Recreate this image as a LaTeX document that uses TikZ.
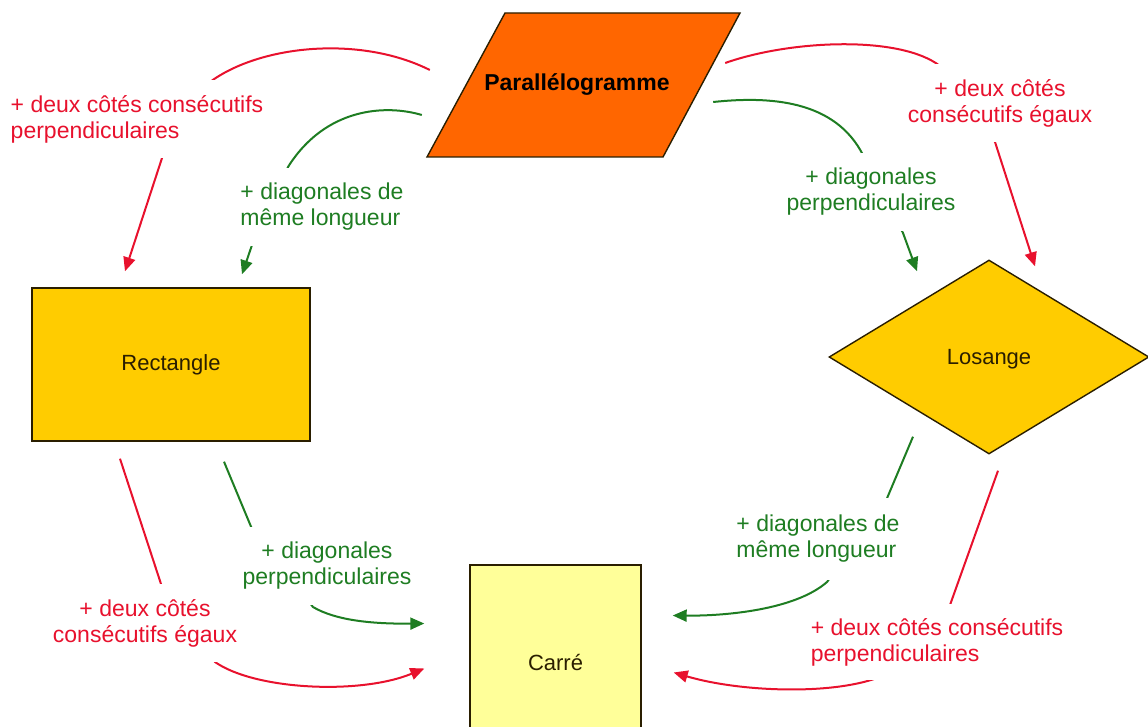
\documentclass[tikz,border=0pt]{standalone}
\usepackage{fontspec}
\setmainfont{Liberation Sans}
\usetikzlibrary{shapes.geometric,arrows.meta}
\definecolor{cred}{HTML}{E8112D}
\definecolor{cgreen}{HTML}{1E7D22}
\definecolor{corange}{HTML}{FF6600}
\definecolor{cgold}{HTML}{FFCC00}
\definecolor{clight}{HTML}{FFFF99}
\definecolor{cborder}{HTML}{2A1E00}
\begin{document}
\begin{tikzpicture}[x=1pt,y=-1pt,
  shapebox/.style={draw=cborder,line width=1.4pt,font=\fontsize{22}{26}\selectfont,text=cborder},
  lbl/.style={fill=white,inner xsep=3pt,font=\fontsize{23}{26}\selectfont},
  rlbl/.style={lbl,text=cred},
  glbl/.style={lbl,text=cgreen},
  conn/.style={line width=2pt,-{Triangle[length=14pt,width=12pt]}},
  rconn/.style={conn,draw=cred},
  gconn/.style={conn,draw=cgreen}]
\path[use as bounding box,clip] (0,0) rectangle (1148,727);
% shapes
\filldraw[draw=cborder,line width=1.4pt,fill=corange] (505,13) -- (740,13) -- (663,157) -- (427,157) -- cycle;
\node[minimum width=313pt,minimum height=144pt,inner sep=0pt,text=black,
      font=\bfseries\fontsize{23}{26}\selectfont] (par) at (577,85) {Parallélogramme};
\node[shapebox,fill=cgold,minimum width=278pt,minimum height=153pt] (rect) at (171,364.5) {Rectangle};
\node[shapebox,diamond,fill=cgold,minimum width=320pt,minimum height=194pt,inner sep=0pt,text depth=0pt] (los) at (989,357) {Losange};
\node[shapebox,fill=clight,minimum width=171pt,minimum height=195pt] (carre) at (555.5,662.5) {Carré};
% connectors
\draw[rconn] ([xshift=9.5pt,yshift=15pt]par.west) .. controls (360,35) and (260,45) .. (210,82)
   -- (163,155) -- ([xshift=-46pt,yshift=16pt]rect.north);
\draw[gconn] ([xshift=1.5pt,yshift=-30pt]par.west) .. controls (385,104) and (325,108) .. (288,167)
   -- (252,245) -- ([xshift=71pt,yshift=13pt]rect.north);
\draw[rconn] ([xshift=-8.5pt,yshift=22pt]par.east) .. controls (790,40) and (900,35) .. (940,66)
   -- (995,142) -- ([xshift=46pt,yshift=-7pt]los.north);
\draw[gconn] ([xshift=-20.5pt,yshift=-17pt]par.east) .. controls (770,96) and (835,100) .. (863,155)
   -- (903,233) -- ([xshift=-72pt,yshift=-12pt]los.north);
\draw[rconn] ([xshift=-51pt,yshift=-17pt]rect.south) -- (162,587) -- (215,662)
   .. controls (255,690) and (360,695) .. ([xshift=-45pt,yshift=-6pt]carre.west);
\draw[gconn] ([xshift=53pt,yshift=-20pt]rect.south) -- (252,529) -- (313,607)
   .. controls (335,620) and (370,624) .. ([xshift=-45pt,yshift=39pt]carre.west);
\draw[gconn] ([xshift=-76pt,yshift=18pt]los.south) -- (885,503) -- (827,582)
   .. controls (795,610) and (725,616) .. ([xshift=31pt,yshift=47pt]carre.east);
\draw[rconn] ([xshift=9pt,yshift=-16pt]los.south) -- (950,605) -- (877,678)
   .. controls (830,695) and (740,692) .. ([xshift=32pt,yshift=-10pt]carre.east);
% labels
\node[rlbl,align=left,inner ysep=15pt] (l1) at (137,119) {+ deux côtés consécutifs\\perpendiculaires};
\node[glbl,align=left,inner ysep=15pt] (l2) at (322,207) {+ diagonales de\\même longueur};
\node[rlbl,align=center,inner ysep=15pt] (l3) at (1000,103) {+ deux côtés\\consécutifs égaux};
\node[glbl,align=center,inner ysep=15pt] (l4) at (871,192) {+ diagonales\\perpendiculaires};
\node[rlbl,align=center,inner ysep=15pt] (l5) at (145,623) {+ deux côtés\\consécutifs égaux};
\node[glbl,align=center,inner ysep=15pt] (l6) at (327,566) {+ diagonales\\perpendiculaires};
\node[glbl,align=left,inner ysep=17pt] (l7) at (818,539) {+ diagonales de\\même longueur};
\node[rlbl,align=left,inner ysep=14pt] (l8) at (937,642) {+ deux côtés consécutifs\\perpendiculaires};
\end{tikzpicture}
\end{document}
